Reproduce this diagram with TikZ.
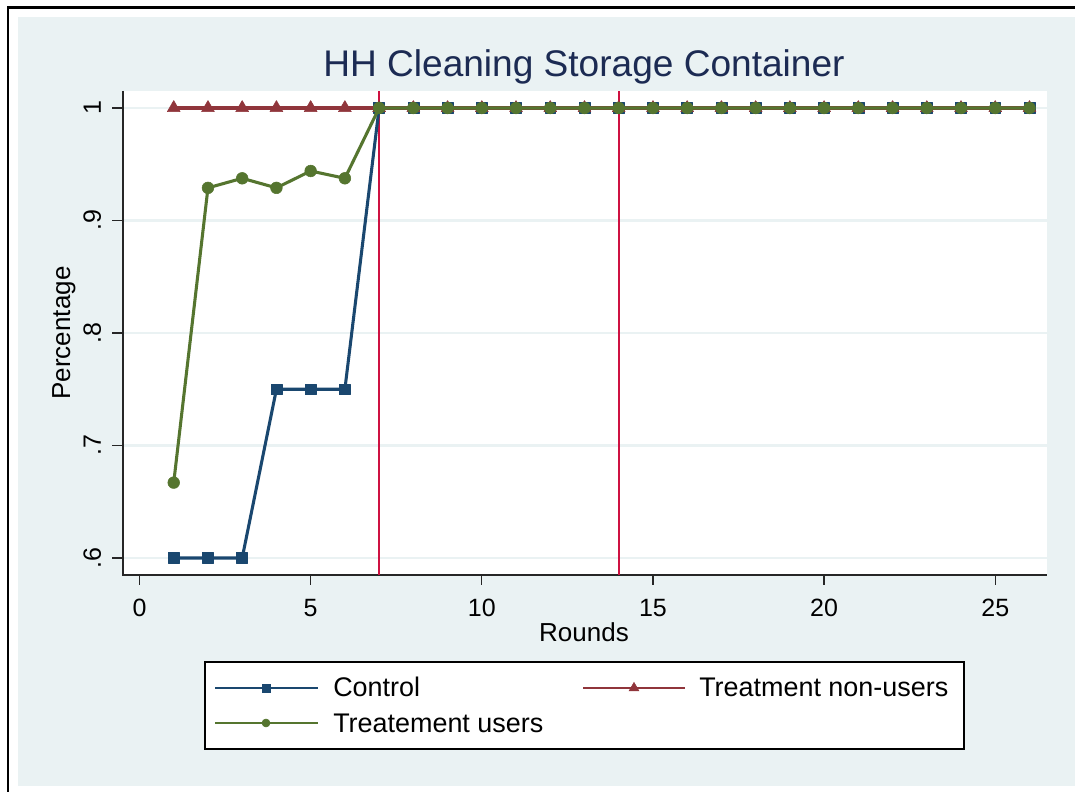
\documentclass[tikz,border=0pt]{standalone}
\usepackage{fontspec}
\setmainfont{Liberation Sans}
\usetikzlibrary{plotmarks}

\definecolor{stbg}{RGB}{234,242,243}
\definecolor{stnavy}{RGB}{26,71,111}
\definecolor{stmaroon}{RGB}{144,53,59}
\definecolor{stgreen}{RGB}{85,117,47}
\definecolor{stred}{RGB}{206,17,65}
\definecolor{sttitle}{RGB}{28,43,83}

\begin{document}
\begin{tikzpicture}[x=0.75pt,y=0.75pt,
  ticklabel/.style={font=\fontsize{18.75}{22}\selectfont},
  axistitle/.style={font=\fontsize{19.5}{23}\selectfont},
  legendtext/.style={font=\fontsize{20.2}{24}\selectfont, anchor=base west, inner sep=0pt},
  axisline/.style={draw=black!85, line width=1pt},
  gridline/.style={draw=stbg, line width=2pt},
  roundline/.style={draw=stred, line width=1.5pt},
  series/.style={line width=2.3pt, line join=round, mark options={solid, line width=0.4pt}},
  legline/.style={line width=1.9pt},
]
\useasboundingbox (0,0) rectangle (1075,792);
% frame and background
\fill[white] (0,0) rectangle (1075,792);
\fill[stbg] (18,6) rectangle (1075,775);
\draw[line width=1.8pt] (8,0) -- (8,784.5) -- (1075,784.5);

\node[font=\fontsize{27.8}{32}\selectfont, text=sttitle, anchor=base] (title) at (584,715) {HH Cleaning Storage Container};

% plot region
\fill[white] (123,217) rectangle (1047,701);

% data coordinates: x = round, y = share
\begin{scope}[shift={(104.625pt,-330.75pt)}, x=25.6725pt, y=843.75pt]
  \foreach \v in {.6,.7,.8,.9,1}
    \draw[gridline] (-0.482,\v) -- (26.512,\v);
  \draw[axisline] (-0.482,1.0151) -- (-0.482,0.5849) -- (26.512,0.5849);
  \foreach \v/\lab [count=\i] in {.6/.6,.7/.7,.8/.8,.9/.9,1/1} {
    \draw[axisline] (-0.482,\v) -- ++(-8.25pt,0);
    \node[ticklabel, rotate=90, anchor=base] (ytick\i) at (-1.125,\v) {\lab};
  }
  \foreach \r [count=\i] in {0,5,...,25} {
    \draw[axisline] (\r,0.5849) -- ++(0,-7.5pt);
    \node[ticklabel, anchor=base] (xtick\i) at (\r,0.5476) {\r};
  }
  % rounds 7 and 14
  \foreach \r in {7,14}
    \draw[roundline] (\r,0.5849) -- (\r,1.0151);

  \draw[series, stnavy, mark=square*, mark size=4.1pt]
    plot coordinates {(1,.6) (2,.6) (3,.6) (4,.75) (5,.75) (6,.75)}
    -- plot[samples at={7,...,26}] (\x,1);
  \draw[series, stmaroon, mark=triangle*, mark size=5.6pt]
    plot[samples at={1,...,26}] (\x,1);
  \draw[series, stgreen, mark=*, mark size=4.4pt]
    plot coordinates {(1,.667) (2,.929) (3,.9375) (4,.929) (5,.944) (6,.9375)}
    -- plot[samples at={7,...,26}] (\x,1);
\end{scope}

\node[axistitle, rotate=90, anchor=base] (ytitle) at (70,459) {Percentage};
\node[axistitle, anchor=base] (xtitle) at (584,150) {Rounds};

% legend
\draw[line width=0.8pt, fill=white] (205,43) rectangle (964,130);
\draw[legline, stnavy] (215,104) -- (318,104);
\draw[stnavy, mark=square*, mark size=3pt] plot coordinates {(266,104)};
\node[legendtext] (legcontrol) at (333,95) {Control};
\draw[legline, stmaroon] (583,104) -- (685,104);
\draw[stmaroon, mark=triangle*, mark size=4.2pt] plot coordinates {(634,104)};
\node[legendtext] (legnonusers) at (699,95) {Treatment non-users};
\draw[legline, stgreen] (215,69) -- (318,69);
\draw[stgreen, mark=*, mark size=3pt] plot coordinates {(266,69)};
\node[legendtext] (legusers) at (333,59) {Treatement users};
\end{tikzpicture}
\end{document}
